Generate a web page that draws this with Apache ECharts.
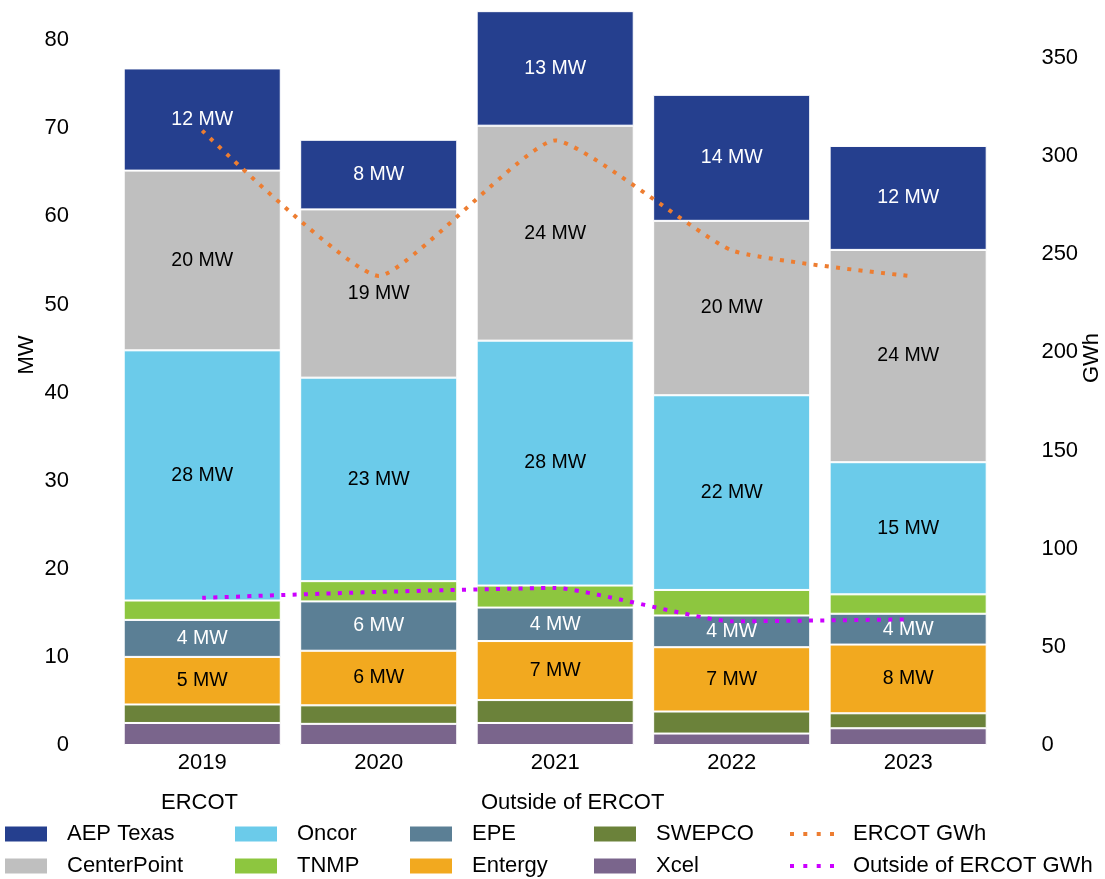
<!DOCTYPE html>
<html><head><meta charset="utf-8">
<script src="https://cdn.jsdelivr.net/npm/echarts@6/dist/echarts.min.js"></script>
<style>html,body{margin:0;padding:0;background:#fff}#c{width:1105px;height:879px}</style>
</head><body><div id="c"></div>
<script>
const years = ['2019', '2020', '2021', '2022', '2023'];
// MW values, stacked bottom to top
const xcel        = [2.5, 2.4, 2.5, 1.3, 1.9];
const swepco      = [2.1, 2.1, 2.6, 2.5, 1.7];
const entergy     = [5.4, 6.2, 6.7, 7.3, 7.8];
const epe         = [4.2, 5.6, 3.8, 3.6, 3.5];
const tnmp        = [2.2, 2.3, 2.5, 2.9, 2.2];
const oncor       = [28.4, 23.1, 27.8, 22.1, 15.0];
const centerPoint = [20.4, 19.1, 24.4, 19.8, 24.1];
const aepTexas    = [11.6, 7.9, 13.0, 14.3, 11.8];
// GWh values
const ercotGWh   = [313, 239, 308, 252, 239];
const outsideGWh = [75, 78, 80, 63, 64];

const FONT = '"Liberation Sans", Arial, sans-serif';
const DOTS = 'path://M0,0h4v4h-4z M13.3,0h4v4h-4z M26.7,0h4v4h-4z M40,0h4v4h-4z';

function bar(name, data, color, labelColor) {
  return {
    name, type: 'bar', stack: 'mw', data, barCategoryGap: '11%',
    itemStyle: { color, borderColor: '#fff', borderWidth: 1 },
    label: labelColor ? {
      show: true, position: 'inside', color: labelColor,
      fontSize: 19.5, fontFamily: FONT,
      formatter: p => Math.round(p.value) + ' MW'
    } : { show: false },
    emphasis: { disabled: true }
  };
}
function line(name, data, color) {
  return {
    name, type: 'line', yAxisIndex: 1, data, symbol: 'none', smooth: 0.15, z: 10,
    lineStyle: { color, width: 4, type: [4, 7.3], cap: 'butt' },
    itemStyle: { color },
    emphasis: { disabled: true }
  };
}

const legendBase = {
  orient: 'vertical', top: 823, itemWidth: 44, itemHeight: 17, itemGap: 10, padding: 0,
  selectedMode: false,
  textStyle: { fontSize: 22, fontFamily: FONT, color: '#000', lineHeight: 22, padding: [0, 0, 0, 14] }
};

const chart = echarts.init(document.getElementById('c'));
chart.setOption({
  animation: false,
  backgroundColor: '#fff',
  grid: { left: 114, right: 108.6, top: 5, bottom: 134 },
  xAxis: {
    type: 'category', data: years,
    axisLine: { show: false }, axisTick: { show: false },
    axisLabel: { fontSize: 22, fontFamily: FONT, color: '#000', margin: 7 }
  },
  yAxis: [
    {
      type: 'value', min: 0, max: 84, interval: 10,
      splitLine: { show: false }, axisLine: { show: false }, axisTick: { show: false },
      axisLabel: { fontSize: 22, fontFamily: FONT, color: '#000', margin: 45,
        formatter: v => (v % 10 === 0 ? String(v) : '') }
    },
    {
      type: 'value', min: 0, max: 377, interval: 50, position: 'right',
      splitLine: { show: false }, axisLine: { show: false }, axisTick: { show: false },
      axisLabel: { fontSize: 22, fontFamily: FONT, color: '#000', margin: 45, align: 'left',
        formatter: v => (v % 50 === 0 ? String(v) : '') }
    }
  ],
  legend: [
    Object.assign({}, legendBase, { left: 3, data: [{name:'AEP Texas', icon:'rect'}, {name:'CenterPoint', icon:'rect'}] }),
    Object.assign({}, legendBase, { left: 233, data: [{name:'Oncor', icon:'rect'}, {name:'TNMP', icon:'rect'}] }),
    Object.assign({}, legendBase, { left: 408, data: [{name:'EPE', icon:'rect'}, {name:'Entergy', icon:'rect'}] }),
    Object.assign({}, legendBase, { left: 592, data: [{name:'SWEPCO', icon:'rect'}, {name:'Xcel', icon:'rect'}] }),
    Object.assign({}, legendBase, { left: 790, itemHeight: 4, itemGap: 10,
      data: [{name:'ERCOT GWh', icon: DOTS}, {name:'Outside of ERCOT GWh', icon: DOTS}] })
  ],
  graphic: [
    { type: 'text', left: 200 - 39, top: 792, style: { text: 'ERCOT', font: '22px ' + FONT, fill: '#000' } },
    { type: 'text', left: 481, top: 792, style: { text: 'Outside of ERCOT', font: '22px ' + FONT, fill: '#000' } },
    { type: 'text', x: 27, y: 355, rotation: Math.PI / 2,
      style: { text: 'MW', font: '22px ' + FONT, fill: '#000', align: 'center', verticalAlign: 'middle' } },
    { type: 'text', x: 1092, y: 358, rotation: Math.PI / 2,
      style: { text: 'GWh', font: '22px ' + FONT, fill: '#000', align: 'center', verticalAlign: 'middle' } }
  ],
  series: [
    bar('Xcel', xcel, '#7A658C', null),
    bar('SWEPCO', swepco, '#6B823A', null),
    bar('Entergy', entergy, '#F2A91F', '#000'),
    bar('EPE', epe, '#5B7F95', '#fff'),
    bar('TNMP', tnmp, '#8DC63F', null),
    bar('Oncor', oncor, '#6BCBEA', '#000'),
    bar('CenterPoint', centerPoint, '#BFBFBF', '#000'),
    bar('AEP Texas', aepTexas, '#253F8E', '#fff'),
    line('ERCOT GWh', ercotGWh, '#ED7D31'),
    line('Outside of ERCOT GWh', outsideGWh, '#CC00FF')
  ]
});
</script>
</body></html>
